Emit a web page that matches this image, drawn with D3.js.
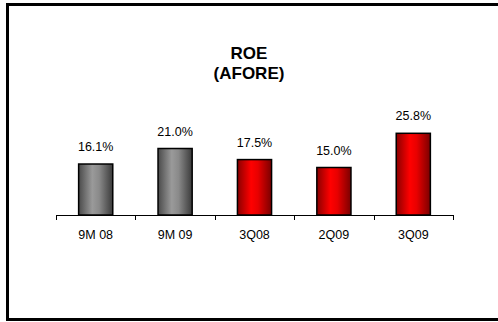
<!DOCTYPE html>
<html><head><meta charset="utf-8">
<script src="https://cdn.jsdelivr.net/npm/d3@7"></script>
<style>html,body{margin:0;padding:0;background:#fff;}svg{display:block;}</style>
</head><body>
<svg id="c" width="498" height="322"></svg>
<script>
const categories = ["9M 08", "9M 09", "3Q08", "2Q09", "3Q09"];
const values = [16.1, 21.0, 17.5, 15.0, 25.8];
const valueLabels = ["16.1%", "21.0%", "17.5%", "15.0%", "25.8%"];
const colorGroups = ["gray", "gray", "red", "red", "red"];
const titleLines = ["ROE", "(AFORE)"];

const svg = d3.select("#c");
const defs = svg.append("defs");
const grads = {
  gray: ["#4a4a4a", "#9a9a9a", "#8a8a8a", "#3a3a3a"],
  red: ["#8a0000", "#ff0000", "#e80000", "#7a0000"]
};
Object.entries(grads).forEach(([k, c]) => {
  const g = defs.append("linearGradient").attr("id", "g-" + k)
    .attr("x1", "0%").attr("x2", "100%").attr("y1", "0%").attr("y2", "0%");
  g.append("stop").attr("offset", "0%").attr("stop-color", c[0]);
  g.append("stop").attr("offset", "40%").attr("stop-color", c[1]);
  g.append("stop").attr("offset", "60%").attr("stop-color", c[2]);
  g.append("stop").attr("offset", "100%").attr("stop-color", c[3]);
});

// frame
svg.append("path").attr("d", "M7.5,320 L7.5,4.5 L498,4.5")
  .attr("fill", "none").attr("stroke", "#000").attr("stroke-width", 3);
svg.append("line").attr("x1", 6).attr("x2", 498).attr("y1", 319.5).attr("y2", 319.5)
  .attr("stroke", "#000").attr("stroke-width", 3);

// title
svg.append("g").selectAll("text").data(titleLines).join("text")
  .attr("x", 249).attr("y", (d, i) => 59 + i * 20)
  .attr("text-anchor", "middle")
  .attr("font-family", "Liberation Sans, Arial, sans-serif")
  .attr("font-weight", "bold").attr("font-size", 17)
  .attr("fill", "#000").text(d => d);

const x = d3.scaleBand().domain(categories).range([56, 453]).paddingInner(0.57).paddingOuter(0.285);
const y = d3.scaleLinear().domain([0, 30]).range([215, 120]);

svg.append("g").selectAll("rect").data(values).join("rect")
  .attr("x", (d, i) => x(categories[i]))
  .attr("y", d => y(d))
  .attr("width", x.bandwidth())
  .attr("height", d => y(0) - y(d))
  .attr("fill", (d, i) => "url(#g-" + colorGroups[i] + ")")
  .attr("stroke", "#000").attr("stroke-width", 1.5);

svg.append("g").selectAll("text").data(values).join("text")
  .attr("x", (d, i) => x(categories[i]) + x.bandwidth() / 2)
  .attr("y", d => y(d) - 13)
  .attr("text-anchor", "middle")
  .attr("font-family", "Liberation Sans, Arial, sans-serif")
  .attr("font-size", 12.5).attr("fill", "#000")
  .text((d, i) => valueLabels[i]);

// axis
const axisG = svg.append("g").attr("transform", "translate(0,215)");
const tickPos = d3.range(categories.length + 1).map(i => 56 + i * (397 / categories.length));
axisG.append("line").attr("x1", 56).attr("x2", 453).attr("y1", 0.5).attr("y2", 0.5)
  .attr("stroke", "#000").attr("stroke-width", 1);
axisG.selectAll("line.t").data(tickPos).join("line").attr("class", "t")
  .attr("x1", d => Math.round(d) + 0.5).attr("x2", d => Math.round(d) + 0.5)
  .attr("y1", 0).attr("y2", 5).attr("stroke", "#000");
axisG.selectAll("text").data(categories).join("text")
  .attr("x", d => x(d) + x.bandwidth() / 2)
  .attr("y", 24)
  .attr("text-anchor", "middle")
  .attr("font-family", "Liberation Sans, Arial, sans-serif")
  .attr("font-size", 12.5).attr("fill", "#000")
  .text(d => d);
</script>
</body></html>
